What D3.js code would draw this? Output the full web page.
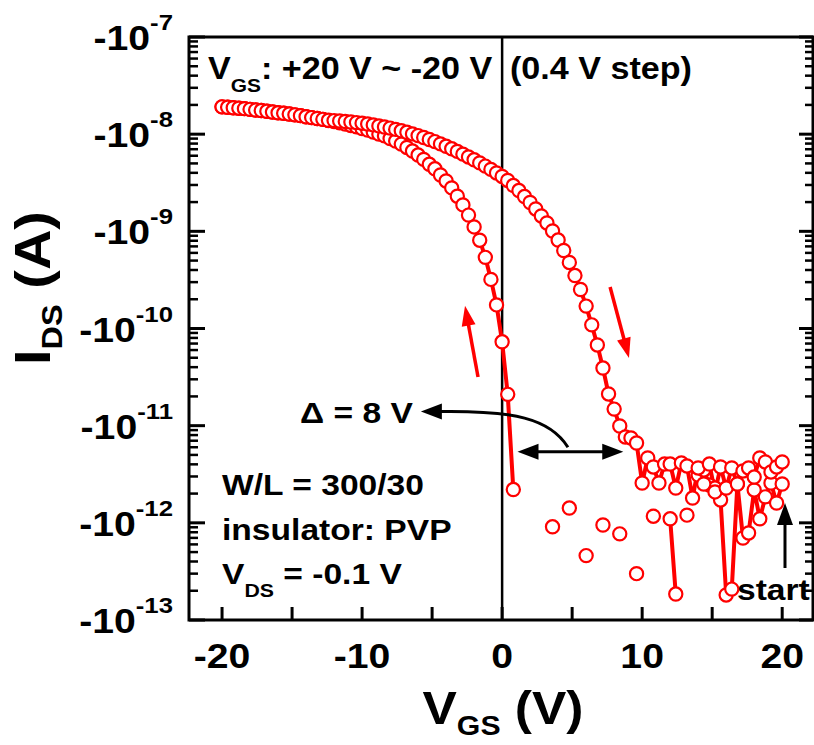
<!DOCTYPE html>
<html>
<head>
<meta charset="utf-8">
<script src="https://d3js.org/d3.v7.min.js"></script>
<style>
  body { margin: 0; background: #fff; }
  text { font-family: "Liberation Sans", Arial, sans-serif; font-weight: bold; fill: #000; white-space: pre; }
</style>
</head>
<body>
<script>
// gate voltage grid (0.4 V step)
var vgs = [-20,-19.6,-19.2,-18.8,-18.4,-18,-17.6,-17.2,-16.8,-16.4,-16,-15.6,-15.2,-14.8,-14.4,-14,-13.6,-13.2,-12.8,-12.4,
  -12,-11.6,-11.2,-10.8,-10.4,-10,-9.6,-9.2,-8.8,-8.4,-8,-7.6,-7.2,-6.8,-6.4,-6,-5.6,-5.2,-4.8,-4.4,
  -4,-3.6,-3.2,-2.8,-2.4,-2,-1.6,-1.2,-0.8,-0.4,0,0.4,0.8,1.2,1.6,2,2.4,2.8,3.2,3.6,
  4,4.4,4.8,5.2,5.6,6,6.4,6.8,7.2,7.6,8,8.4,8.8,9.2,9.6,10,10.4,10.8,11.2,11.6,
  12,12.4,12.8,13.2,13.6,14,14.4,14.8,15.2,15.6,16,16.4,16.8,17.2,17.6,18,18.4,18.8,19.2,19.6,20];

// sweep +20 V -> -20 V (listed by ascending VGS); null = current not negative, not on the log axis
var idsSweep1 = [-1.91e-8,-1.89e-8,-1.87e-8,-1.85e-8,-1.83e-8,-1.80e-8,-1.77e-8,-1.75e-8,-1.72e-8,-1.69e-8,
  -1.66e-8,-1.64e-8,-1.61e-8,-1.58e-8,-1.55e-8,-1.51e-8,-1.48e-8,-1.45e-8,-1.42e-8,-1.38e-8,
  -1.35e-8,-1.31e-8,-1.27e-8,-1.23e-8,-1.19e-8,-1.14e-8,-1.10e-8,-1.05e-8,-1.00e-8,-9.6e-9,
  -9.0e-9,-8.5e-9,-7.9e-9,-7.3e-9,-6.7e-9,-6.1e-9,-5.5e-9,-4.9e-9,-4.4e-9,-3.8e-9,
  -3.3e-9,-2.8e-9,-2.3e-9,-1.87e-9,-1.47e-9,-1.11e-9,-8.1e-10,-5.4e-10,-3.2e-10,-1.75e-10,
  -7.3e-11,-2.1e-11,-2.2e-12,null,null,null,null,null,null,-9.1e-13,
  null,null,-1.42e-12,null,null,-4.6e-13,null,null,-9.5e-13,null,
  null,-7.7e-13,null,null,-3.0e-13,null,null,-1.17e-12,null,null,
  -1.1e-12,-1.85e-13,null,-1.2e-12,null,-3.1e-12,-3.5e-12,-2.45e-12,-2.28e-12,-1.72e-12,
  -1.81e-13,-2.08e-13,-2.51e-12,-6.98e-13,-7.87e-13,-2.18e-12,-1.10e-12,-1.85e-12,-2.57e-12,-1.60e-12,-2.51e-12];

// sweep -20 V -> +20 V
var idsSweep2 = [-1.91e-8,-1.89e-8,-1.87e-8,-1.85e-8,-1.83e-8,-1.80e-8,-1.77e-8,-1.75e-8,-1.72e-8,-1.69e-8,
  -1.66e-8,-1.64e-8,-1.61e-8,-1.58e-8,-1.55e-8,-1.51e-8,-1.48e-8,-1.45e-8,-1.42e-8,-1.39e-8,
  -1.38e-8,-1.366e-8,-1.35e-8,-1.334e-8,-1.316e-8,-1.297e-8,-1.272e-8,-1.246e-8,-1.217e-8,-1.185e-8,
  -1.155e-8,-1.12e-8,-1.083e-8,-1.045e-8,-1.006e-8,-9.67e-9,-9.24e-9,-8.81e-9,-8.38e-9,-7.94e-9,
  -7.5e-9,-7.07e-9,-6.65e-9,-6.23e-9,-5.83e-9,-5.45e-9,-5.06e-9,-4.69e-9,-4.34e-9,-3.99e-9,
  -3.67e-9,-3.34e-9,-2.96e-9,-2.63e-9,-2.28e-9,-1.98e-9,-1.70e-9,-1.44e-9,-1.22e-9,-1.008e-9,
  -8.14e-10,-6.35e-10,-4.78e-10,-3.51e-10,-2.52e-10,-1.70e-10,-1.09e-10,-6.77e-11,-3.92e-11,-2.12e-11,
  -1.48e-11,-9.92e-12,-7.65e-12,-7.47e-12,-6.63e-12,-2.57e-12,-4.65e-12,-3.76e-12,-2.57e-12,-4.03e-12,
  -4.03e-12,-2.28e-12,-4.13e-12,-3.85e-12,-1.80e-12,-3.67e-12,-2.51e-12,-4.03e-12,-2.08e-12,-3.76e-12,
  -2.28e-12,-3.67e-12,-2.51e-12,-3.42e-12,-3.67e-12,-2.96e-12,-4.65e-12,-4.23e-12,-3.34e-12,-3.76e-12,-4.23e-12];

var xTicks = [-20, -10, 0, 10, 20];
var xMinor = [-15, -5, 5, 15];
var yExps = [-7, -8, -9, -10, -11, -12, -13];

var SX = 1.12; // the lettering in the figure is a bit wide

var svg = d3.select("body").append("svg")
    .attr("width", 814)
    .attr("height", 745);

var x = d3.scaleLinear().domain([-22.36, 22.2]).range([189, 813]);
var y = d3.scaleLog().domain([-1e-7, -1e-13]).range([37, 620]);

function label(x0, y0, size, anchor, parts, rot, sx) {
  var g = svg.append("g")
      .attr("transform", "translate(" + x0 + "," + y0 + ")" + (rot ? " rotate(" + rot + ")" : "") + " scale(" + (sx || SX) + ",1)");
  var t = g.append("text").attr("text-anchor", anchor).style("font-size", size + "px");
  var shift = 0;
  parts.forEach(function(p) {
    var want = p.dy || 0;
    var s = t.append("tspan").attr("dy", want - shift).text(p.t);
    shift = want;
    if (p.size) s.style("font-size", p.size + "px");
  });
  return t;
}

function head(tip, from, len, hw, color) {
  var dx = tip[0] - from[0], dy = tip[1] - from[1];
  var d = Math.sqrt(dx * dx + dy * dy);
  var ux = dx / d, uy = dy / d;
  var bx = tip[0] - ux * len, by = tip[1] - uy * len;
  svg.append("path")
    .attr("d", "M" + tip[0] + "," + tip[1] + "L" + (bx - uy * hw) + "," + (by + ux * hw) + "L" + (bx + uy * hw) + "," + (by - ux * hw) + "Z")
    .attr("fill", color);
  return [bx + ux * 2, by + uy * 2];
}

function arrow(from, tip, color, width, len, hw) {
  var base = head(tip, from, len, hw, color);
  svg.append("line")
    .attr("x1", from[0]).attr("y1", from[1])
    .attr("x2", base[0]).attr("y2", base[1])
    .attr("stroke", color).attr("stroke-width", width);
}

// frame
svg.append("rect")
  .attr("x", 189).attr("y", 37).attr("width", 624).attr("height", 583)
  .attr("fill", "none").attr("stroke", "#000").attr("stroke-width", 3);

// y ticks (left and right, inward)
var minorY = [];
yExps.slice(1).forEach(function(e) {
  for (var m = 2; m <= 9; m++) minorY.push(-m * Math.pow(10, e));
});
yExps.forEach(function(e) {
  var v = -Math.pow(10, e);
  svg.append("line").attr("x1", 189).attr("x2", 205).attr("y1", y(v)).attr("y2", y(v))
    .attr("stroke", "#000").attr("stroke-width", 3);
  svg.append("line").attr("x1", 813).attr("x2", 799).attr("y1", y(v)).attr("y2", y(v))
    .attr("stroke", "#000").attr("stroke-width", 3);
  label(173, y(v) + 13, 35, "end", [{t: "-10"}, {t: String(e), size: 23, dy: -20}]);
});
minorY.forEach(function(v) {
  svg.append("line").attr("x1", 189).attr("x2", 198).attr("y1", y(v)).attr("y2", y(v))
    .attr("stroke", "#000").attr("stroke-width", 2.5);
  svg.append("line").attr("x1", 813).attr("x2", 805).attr("y1", y(v)).attr("y2", y(v))
    .attr("stroke", "#000").attr("stroke-width", 2.5);
});

// x ticks
xTicks.concat(xMinor).forEach(function(v) {
  svg.append("line").attr("x1", x(v)).attr("x2", x(v)).attr("y1", 620).attr("y2", 607)
    .attr("stroke", "#000").attr("stroke-width", 3);
});
xTicks.forEach(function(v) {
  label(x(v), 668, 35, "middle", [{t: String(v)}]);
});

// zero line
svg.append("line")
  .attr("x1", x(0)).attr("x2", x(0)).attr("y1", 37).attr("y2", 620)
  .attr("stroke", "#000").attr("stroke-width", 2.5);

// axis titles
label(503, 724, 46, "middle", [{t: "V"}, {t: "GS", size: 27, dy: 11}, {t: " (V)", dy: 0}]);
label(50, 288, 50, "middle", [{t: "I"}, {t: "DS", size: 29, dy: 12}, {t: " (A)", dy: 0}], -90);

// data
var sweeps = [idsSweep1, idsSweep2].map(function(arr) {
  return vgs.map(function(v, i) { return {v: v, i: arr[i]}; });
});
var line = d3.line()
  .defined(function(d) { return d.i != null; })
  .x(function(d) { return x(d.v); })
  .y(function(d) { return y(d.i); });

sweeps.forEach(function(s) {
  svg.append("path").datum(s)
    .attr("d", line)
    .attr("fill", "none").attr("stroke", "#ff0000").attr("stroke-width", 4)
    .attr("stroke-linejoin", "round");
});
sweeps.forEach(function(s) {
  svg.append("g").selectAll("circle")
    .data(s.filter(function(d) { return d.i != null; }))
    .join("circle")
      .attr("cx", function(d) { return x(d.v); })
      .attr("cy", function(d) { return y(d.i); })
      .attr("r", 6.6)
      .attr("fill", "#fff")
      .attr("stroke", "#ff0000")
      .attr("stroke-width", 2.2);
});

// sweep direction arrows
arrow([x(-1.72), y(-3.17e-11)], [x(-2.65), y(-1.71e-10)], "#ff0000", 3.5, 20, 7);
arrow([x(7.71), y(-2.67e-10)], [x(9.06), y(-4.98e-11)], "#ff0000", 3.5, 20, 7);

// hysteresis width
var hy = y(-5.4e-12);
var hA = [x(1.1), hy], hB = [x(8.65), hy];
var bA = head(hA, hB, 21, 8, "#000");
var bB = head(hB, hA, 21, 8, "#000");
svg.append("line").attr("x1", bA[0]).attr("x2", bB[0]).attr("y1", hy).attr("y2", hy)
  .attr("stroke", "#000").attr("stroke-width", 3);

var p0 = [x(4.7), y(-6.0e-12)], tip = [x(-5.8), y(-1.4e-11)];
var cb = head(tip, [tip[0] + 20, tip[1]], 21, 8, "#000");
svg.append("path")
  .attr("d", "M" + p0[0] + "," + p0[1] + "C" + (p0[0] - 18) + "," + (p0[1] - 29) + " " + (p0[0] - 55) + "," + (tip[1] - 1) + " " + cb[0] + "," + tip[1])
  .attr("fill", "none").attr("stroke", "#000").attr("stroke-width", 3);

// start marker
arrow([x(20.2), y(-3.43e-13)], [x(20.2), y(-1.6e-12)], "#000", 3, 22, 8);

// annotations
label(208, 79, 31, "start", [{t: "V"}, {t: "GS", size: 19, dy: 13}, {t: ": +20 V ~ -20 V", dy: 0}], 0, 1.1);
label(510, 79, 31, "start", [{t: "(0.4 V step)"}], 0, 1.1);
label(300, 423, 30, "start", [{t: "\u0394 = 8 V"}]);
label(222, 495, 30, "start", [{t: "W/L = 300/30"}]);
label(222, 540, 30, "start", [{t: "insulator: PVP"}]);
label(222, 584, 30, "start", [{t: "V"}, {t: "DS", size: 19, dy: 13}, {t: " = -0.1 V", dy: 0}]);
label(737, 600, 30, "start", [{t: "start"}]);
</script>
</body>
</html>
